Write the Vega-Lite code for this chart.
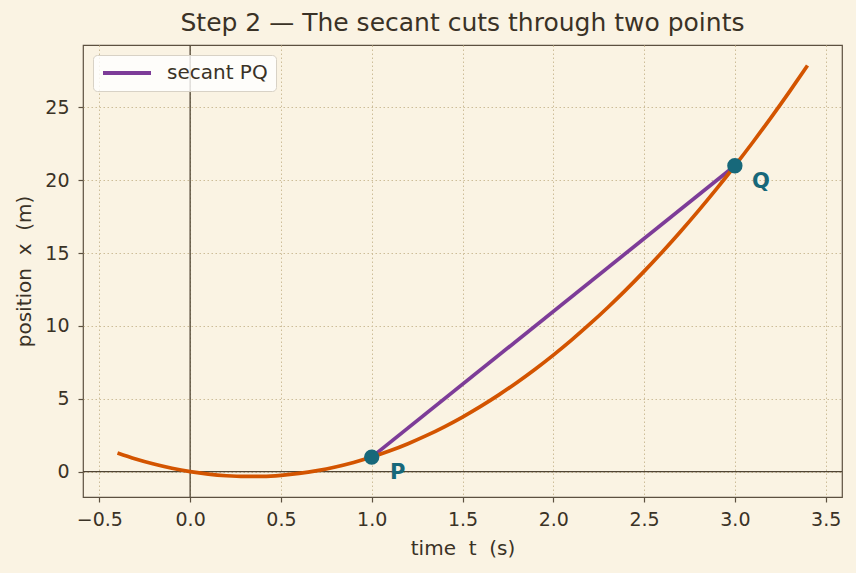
{
  "$schema": "https://vega.github.io/schema/vega-lite/v6.json",
  "width": 759,
  "height": 452,
  "autosize": {"type": "none"},
  "padding": {"left": 83, "top": 45, "right": 14, "bottom": 76},
  "background": "#FAF3E3",
  "title": {
    "text": "Step 2 — The secant cuts through two points",
    "font": "DejaVu Sans",
    "fontSize": 25,
    "fontWeight": "normal",
    "color": "#3a3226",
    "anchor": "middle",
    "offset": 8
  },
  "datasets": {
    "curve": [
      {"t": -0.4, "x": 1.28}, {"t": -0.3, "x": 0.87}, {"t": -0.2, "x": 0.52}, {"t": -0.1, "x": 0.23},
      {"t": 0.0, "x": 0.0}, {"t": 0.1, "x": -0.17}, {"t": 0.2, "x": -0.28}, {"t": 0.3, "x": -0.33},
      {"t": 0.4, "x": -0.32}, {"t": 0.5, "x": -0.25}, {"t": 0.6, "x": -0.12}, {"t": 0.7, "x": 0.07},
      {"t": 0.8, "x": 0.32}, {"t": 0.9, "x": 0.63}, {"t": 1.0, "x": 1.0}, {"t": 1.1, "x": 1.43},
      {"t": 1.2, "x": 1.92}, {"t": 1.3, "x": 2.47}, {"t": 1.4, "x": 3.08}, {"t": 1.5, "x": 3.75},
      {"t": 1.6, "x": 4.48}, {"t": 1.7, "x": 5.27}, {"t": 1.8, "x": 6.12}, {"t": 1.9, "x": 7.03},
      {"t": 2.0, "x": 8.0}, {"t": 2.1, "x": 9.03}, {"t": 2.2, "x": 10.12}, {"t": 2.3, "x": 11.27},
      {"t": 2.4, "x": 12.48}, {"t": 2.5, "x": 13.75}, {"t": 2.6, "x": 15.08}, {"t": 2.7, "x": 16.47},
      {"t": 2.8, "x": 17.92}, {"t": 2.9, "x": 19.43}, {"t": 3.0, "x": 21.0}, {"t": 3.1, "x": 22.63},
      {"t": 3.2, "x": 24.32}, {"t": 3.3, "x": 26.07}, {"t": 3.4, "x": 27.88}
    ],
    "pts": [
      {"t": 1, "x": 1, "label": "P", "series": "secant PQ"},
      {"t": 3, "x": 21, "label": "Q", "series": "secant PQ"}
    ],
    "zero": [{"v": 0}]
  },
  "encoding": {
    "x": {
      "field": "t", "type": "quantitative",
      "scale": {"domain": [-0.59, 3.59], "nice": false, "zero": false},
      "axis": {
        "title": "time \u00a0t \u00a0(s)",
        "values": [-0.5, 0, 0.5, 1, 1.5, 2, 2.5, 3, 3.5],
        "format": ".1f"
      }
    },
    "y": {
      "field": "x", "type": "quantitative",
      "scale": {"domain": [-1.74, 29.29], "nice": false, "zero": false},
      "axis": {
        "title": "position \u00a0x \u00a0(m)",
        "values": [0, 5, 10, 15, 20, 25],
        "format": "d",
        "labelPadding": 9,
        "titlePadding": 10
      }
    }
  },
  "layer": [
    {
      "data": {"name": "zero"},
      "mark": {"type": "rule", "color": "#4f4434", "strokeWidth": 1.3},
      "encoding": {"x": {"field": "v", "type": "quantitative"}, "y": null}
    },
    {
      "data": {"name": "zero"},
      "mark": {"type": "rule", "color": "#4f4434", "strokeWidth": 1.3},
      "encoding": {"y": {"field": "v", "type": "quantitative"}, "x": null}
    },
    {
      "data": {"name": "pts"},
      "mark": {"type": "line", "strokeWidth": 3.7},
      "encoding": {
        "color": {
          "field": "series", "type": "nominal",
          "scale": {"domain": ["secant PQ"], "range": ["#7d3c98"]},
          "legend": {
            "title": null,
            "orient": "top-left",
            "offset": 10,
            "symbolType": "M-1,0H5",
            "symbolSize": 256,
            "symbolStrokeWidth": 4,
            "labelFontSize": 20,
            "labelFont": "DejaVu Sans",
            "labelColor": "#3a3226",
            "labelOffset": 46,
            "fillColor": "rgba(255,255,255,0.8)",
            "strokeColor": "#d8d2c6",
            "cornerRadius": 4,
            "padding": 8
          }
        }
      }
    },
    {
      "data": {"name": "curve"},
      "mark": {"type": "line", "color": "#d35400", "strokeWidth": 3.7, "interpolate": "monotone"}
    },
    {
      "data": {"name": "pts"},
      "mark": {"type": "point", "filled": true, "opacity": 1, "size": 235, "color": "#17687a"}
    },
    {
      "data": {"name": "pts"},
      "mark": {"type": "text", "dx": 26, "dy": 16, "fontSize": 21, "fontWeight": "bold", "font": "DejaVu Sans", "color": "#17687a"},
      "encoding": {"text": {"field": "label"}}
    }
  ],
  "config": {
    "view": {"stroke": "#5c5040", "strokeWidth": 1.2},
    "axis": {
      "domain": false,
      "grid": true,
      "gridColor": "#cdbd98",
      "gridDash": [1.5, 2.5],
      "gridWidth": 1,
      "ticks": true,
      "tickColor": "#5c5040",
      "tickSize": 5,
      "tickWidth": 1.2,
      "labelFont": "DejaVu Sans",
      "labelFontSize": 19,
      "labelColor": "#3a3226",
      "labelPadding": 8,
      "titleFont": "DejaVu Sans",
      "titleFontSize": 20,
      "titleFontWeight": "normal",
      "titleColor": "#3a3226",
      "titlePadding": 9
    }
  }
}
